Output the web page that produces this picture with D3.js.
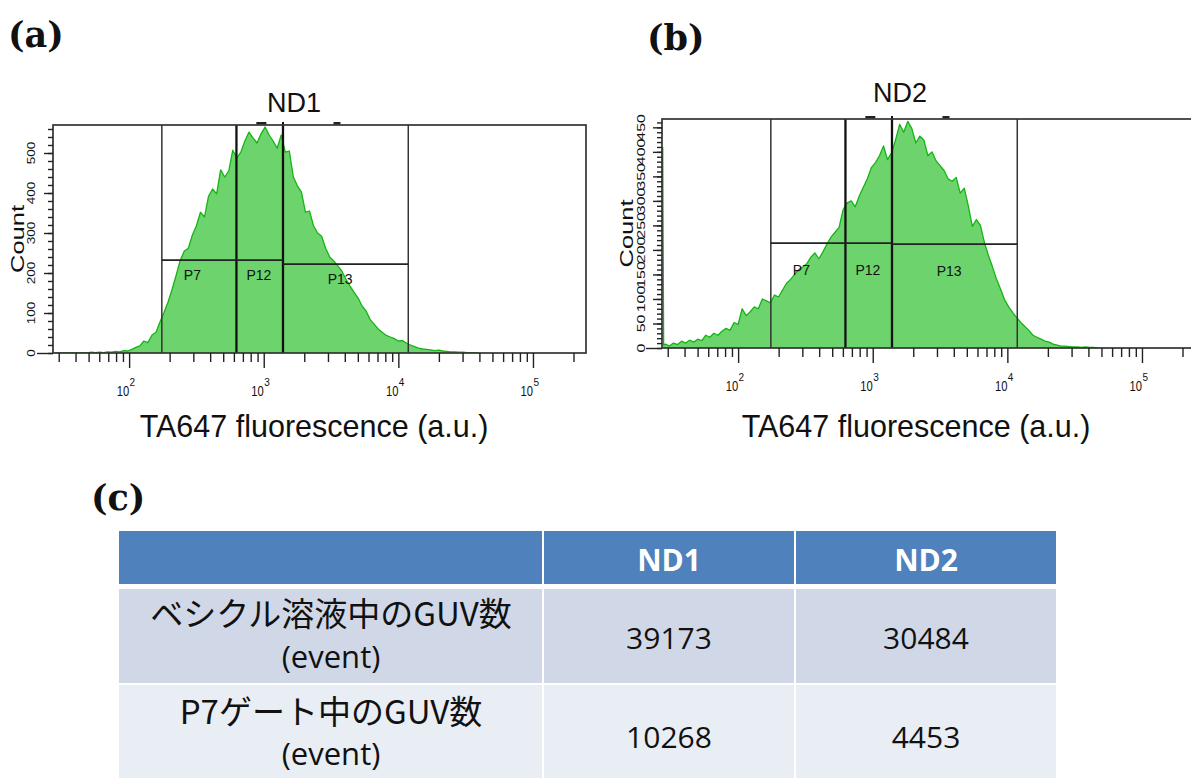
<!DOCTYPE html>
<html>
<head>
<meta charset="utf-8">
<script src="https://cdn.jsdelivr.net/npm/d3@7"></script>
<style>
  html, body { margin: 0; padding: 0; background: #fff; }
  svg { display: block; }
</style>
</head>
<body>
<svg id="fig" width="1191" height="778"></svg>
<script>
// ---- Histogram ND1: bin centres (log10 of TA647 fluorescence) and event counts ----
const nd1BinLog = [1.45,1.48,1.51,1.54,1.57,1.60,1.63,1.66,1.69,1.72,1.75,1.78,1.81,1.84,1.87,1.90,1.93,1.96,1.99,
  2.02,2.05,2.08,2.11,2.14,2.17,2.20,2.23,2.26,2.29,2.32,2.35,2.38,2.41,2.44,2.47,2.50,2.53,2.56,2.59,2.62,2.65,2.68,
  2.71,2.74,2.77,2.80,2.83,2.86,2.89,2.92,2.95,2.98,3.01,3.04,3.07,3.10,3.13,3.16,3.19,3.22,3.25,3.28,3.31,3.34,3.37,
  3.40,3.43,3.46,3.49,3.52,3.55,3.58,3.61,3.64,3.67,3.70,3.73,3.76,3.79,3.82,3.85,3.88,3.91,3.94,3.97,4.00,4.03,4.06,
  4.09,4.12,4.15,4.18,4.21,4.24,4.27,4.30,4.33,4.36,4.39,4.42,4.45,4.48,4.51,4.54,4.57,4.60];
const nd1Counts = [0,0,0,0,1,0,0,1,0,2,1,2,1,3,2,4,3,6,5,
  9,14,18,30,26,45,52,78,102,128,160,195,232,255,262,295,318,352,340,392,410,398,458,
  440,455,507,488,502,530,552,538,525,548,565,545,530,512,545,502,505,440,418,402,352,355,318,
  300,292,262,240,230,218,205,185,168,152,138,118,105,84,72,60,52,44,40,36,30,31,25,
  20,16,12,10,9,8,6,7,5,4,3,3,2,2,1,1,0,0];

// ---- Histogram ND2 ----
const nd2BinLog = [1.440,1.443,1.447,1.46,1.49,1.52,1.55,1.58,1.61,1.64,1.67,1.70,1.73,1.76,1.79,1.82,1.85,1.88,1.91,1.94,1.97,
  2.00,2.03,2.06,2.09,2.12,2.15,2.18,2.21,2.24,2.27,2.30,2.33,2.36,2.39,2.42,2.45,2.48,2.51,2.54,2.57,2.60,2.63,2.66,
  2.69,2.72,2.75,2.78,2.81,2.84,2.87,2.90,2.93,2.96,2.99,3.02,3.05,3.08,3.11,3.14,3.17,3.20,3.23,3.26,3.29,3.32,3.35,
  3.38,3.41,3.44,3.47,3.50,3.53,3.56,3.59,3.62,3.65,3.68,3.71,3.74,3.77,3.80,3.83,3.86,3.89,3.92,3.95,3.98,4.01,4.04,
  4.07,4.10,4.13,4.16,4.19,4.22,4.25,4.28,4.31,4.34,4.37,4.40,4.43,4.46,4.49,4.52,4.55,4.58,4.61,4.64,4.67];
const nd2Counts = [410,214,6,8,4,10,7,14,10,16,12,18,15,26,22,30,26,34,40,36,52,
  48,80,66,74,84,80,100,96,92,108,104,118,132,140,150,160,165,172,185,194,182,196,212,
  226,236,246,282,296,300,288,310,328,345,368,378,392,412,384,398,425,456,440,462,448,418,432,
  424,392,400,382,372,362,345,340,348,316,326,290,248,262,250,215,188,165,140,120,98,84,72,
  62,52,44,36,26,22,18,14,12,8,6,4,4,3,2,2,1,2,1,1,0];

// ---- Gates (shared by both samples) ----
const gateNames   = ["P7", "P12", "P13"];
const gateEdges   = [175, 627, 1390, 11850];   // fluorescence boundaries
const gateLabelAt = [295, 920, 3700];          // fluorescence where each gate name sits
const nd1GateLevels = [232, 232, 222];         // count level of each gate bar
const nd2GateLevels = [214, 214, 212];
const gateMarks = [960, 3500];                 // small handles above the plot frame

// ---- Axis ticks ----
const decadeExps     = [2, 3, 4, 5];
const nd1CountTicks  = [0, 100, 200, 300, 400, 500];
const nd2CountTicks  = [0, 50, 100, 150, 200, 250, 300, 350, 400, 450];

// ---- Table ----
const tableHeader = ["", "ND1", "ND2"];
const rowLabels = [["ベシクル溶液中のGUV数", "(event)"], ["P7ゲート中のGUV数", "(event)"]];
const nd1Events = [39173, 10268];
const nd2Events = [30484, 4453];

const svg = d3.select("#fig");
const sans = "Arial, 'Liberation Sans', sans-serif";
const serif = "'DejaVu Serif', 'Liberation Serif', serif";
const FILL = "#6dd46d", EDGE = "#15b415", INK = "#222";

function drawPanel(cfg, binLog, counts, countTicks, gateLevels) {
  const g = svg.append("g");
  const x = d3.scaleLog().domain([27.2, 247700]).range([cfg.left, cfg.left + 533]);
  const y = d3.scaleLinear().domain([0, cfg.yMax]).range([cfg.bottom, cfg.top]);
  const plotRight = cfg.left + 533;

  const clipId = "clip-" + cfg.title;
  svg.append("clipPath").attr("id", clipId).append("rect")
    .attr("x", cfg.left).attr("y", cfg.top)
    .attr("width", plotRight - cfg.left).attr("height", cfg.bottom - cfg.top);

  // histogram
  const pts = binLog.map((l, i) => [Math.pow(10, l), counts[i]]);
  const area = d3.area().x(d => x(d[0])).y0(y(0)).y1(d => y(d[1]));
  const line = d3.line().x(d => x(d[0])).y(d => y(d[1]));
  const hg = g.append("g").attr("clip-path", `url(#${clipId})`);
  hg.append("path").datum(pts).attr("d", area).attr("fill", FILL);
  hg.append("path").datum(pts).attr("d", line).attr("fill", "none")
    .attr("stroke", EDGE).attr("stroke-width", 1.3).attr("stroke-linejoin", "round");

  // gates
  const gg = g.append("g").attr("clip-path", `url(#${clipId})`);
  gateEdges.forEach((v, i) => {
    const inner = i === 1 || i === 2;
    gg.append("line").attr("x1", x(v)).attr("x2", x(v))
      .attr("y1", cfg.top).attr("y2", cfg.bottom)
      .attr("stroke", inner ? "#111" : "#333").attr("stroke-width", inner ? 2.3 : 1.5);
  });
  gateNames.forEach((name, i) => {
    gg.append("line").attr("x1", x(gateEdges[i])).attr("x2", x(gateEdges[i + 1]))
      .attr("y1", y(gateLevels[i])).attr("y2", y(gateLevels[i]))
      .attr("stroke", "#222").attr("stroke-width", 1.8);
    g.append("text").attr("x", x(gateLabelAt[i])).attr("y", y(gateLevels[i]) + cfg.labelDy)
      .attr("text-anchor", "middle").attr("font-family", sans).attr("font-size", 14)
      .attr("fill", "#111").text(name);
  });

  // handles above the frame
  gateMarks.forEach((v, i) => {
    const w = i === 0 ? 10 : 7;
    g.append("rect").attr("x", x(v) - w / 2).attr("y", cfg.top - 3).attr("width", w).attr("height", 2.5)
      .attr("fill", "#222");
  });
  g.append("line").attr("x1", x(gateEdges[2])).attr("x2", x(gateEdges[2]))
    .attr("y1", cfg.top - 3).attr("y2", cfg.top).attr("stroke", "#111").attr("stroke-width", 2);

  // frame
  g.append("rect").attr("x", cfg.left).attr("y", cfg.top)
    .attr("width", plotRight - cfg.left).attr("height", cfg.bottom - cfg.top)
    .attr("fill", "none").attr("stroke", "#333").attr("stroke-width", 1.7);

  // x axis: minor ticks at 2..9 of each decade, longer ticks on the decades
  const minor = [], major = [];
  for (let e = 1; e <= 5; e++) {
    for (let m = 1; m <= 9; m++) {
      const v = m * Math.pow(10, e);
      if (v < 28 || v > 240000) continue;
      (m === 1 ? major : minor).push(v);
    }
  }
  const styleAxis = sel => {
    sel.select(".domain").remove();
    sel.selectAll("line").attr("stroke", INK).attr("stroke-width", 1.4);
  };
  g.append("g").attr("transform", `translate(0,${cfg.bottom})`)
    .call(d3.axisBottom(x).tickValues(minor).tickSize(9).tickFormat("")).call(styleAxis);
  g.append("g").attr("transform", `translate(0,${cfg.bottom})`)
    .call(d3.axisBottom(x).tickValues(major).tickSize(15).tickFormat("")).call(styleAxis);
  decadeExps.forEach(e => {
    const xx = x(Math.pow(10, e));
    g.append("text").attr("transform", `translate(${xx},${cfg.bottom + 43}) scale(0.8,1)`)
      .attr("text-anchor", "end").attr("font-family", sans).attr("font-size", 14)
      .attr("fill", "#111").text("10");
    g.append("text").attr("x", xx + 0.5).attr("y", cfg.bottom + 33).attr("font-family", sans)
      .attr("font-size", 10).attr("fill", "#111").text(String(e));
  });

  // y axis
  const yMinor = d3.range(0, cfg.yMax, cfg.minorStep);
  g.append("g").attr("transform", `translate(${cfg.left},0)`)
    .call(d3.axisLeft(y).tickValues(yMinor).tickSize(5).tickFormat("")).call(styleAxis);
  g.append("g").attr("transform", `translate(${cfg.left},0)`)
    .call(d3.axisLeft(y).tickValues(countTicks.slice(1)).tickSize(9).tickFormat("")).call(styleAxis);
  g.append("g").attr("transform", `translate(${cfg.left},0)`)
    .call(d3.axisLeft(y).tickValues([0]).tickSize(16).tickFormat("")).call(styleAxis);
  countTicks.forEach(v => {
    g.append("text")
      .attr("transform", `translate(${cfg.left - 21},${y(v)}) rotate(-90) scale(${cfg.tickStretch},1)`)
      .attr("text-anchor", "middle").attr("dominant-baseline", "central")
      .attr("font-family", sans).attr("font-size", cfg.tickFont).attr("fill", "#111").text(v);
  });
  g.append("text")
    .attr("transform", `translate(${cfg.left - 36},${(cfg.top + cfg.bottom) / 2}) rotate(-90)`)
    .attr("text-anchor", "middle").attr("dominant-baseline", "central")
    .attr("font-family", sans).attr("font-size", 19).attr("fill", "#111")
    .attr("textLength", 68).attr("lengthAdjust", "spacingAndGlyphs").text("Count");

  // titles
  g.append("text").attr("x", cfg.titleX).attr("y", cfg.titleY).attr("text-anchor", "middle")
    .attr("font-family", sans).attr("font-size", 27).attr("fill", "#111").text(cfg.title);
  g.append("text").attr("x", cfg.xTitleX).attr("y", cfg.xTitleY).attr("text-anchor", "middle")
    .attr("font-family", sans).attr("font-size", 30.5).attr("fill", "#111")
    .text("TA647 fluorescence (a.u.)");
  g.append("text").attr("x", cfg.letterX).attr("y", cfg.letterY)
    .attr("font-family", serif).attr("font-weight", "bold").attr("font-size", 35)
    .attr("fill", "#111").text(cfg.letter);
}

drawPanel({ left: 53, top: 125, bottom: 353, yMax: 570, minorStep: 20, tickFont: 10, tickStretch: 1.35,
            title: "ND1", titleX: 294, titleY: 112, xTitleX: 314, xTitleY: 437,
            letter: "(a)", letterX: 8, letterY: 47, labelDy: 20 },
          nd1BinLog, nd1Counts, nd1CountTicks, nd1GateLevels);

drawPanel({ left: 662, top: 119, bottom: 348, yMax: 467, minorStep: 10, tickFont: 11, tickStretch: 1.45,
            title: "ND2", titleX: 900, titleY: 102, xTitleX: 916, xTitleY: 437,
            letter: "(b)", letterX: 647, letterY: 50, labelDy: 32 },
          nd2BinLog, nd2Counts, nd2CountTicks, nd2GateLevels);

// ---- (c) event table ----
svg.append("text").attr("x", 91).attr("y", 510).attr("font-family", serif).attr("font-weight", "bold")
  .attr("font-size", 35).attr("fill", "#111").text("(c)");

const colEdges = [119, 543, 795, 1057];
const headerBand = [531, 584];
const rowBands = [[589, 683], [685, 800]];
const rowFills = ["#d0d8e8", "#e9edf4"];
const tableFont = "'Open Sans', 'Noto Sans CJK JP', sans-serif";
const tg = svg.append("g");

tableHeader.forEach((h, c) => {
  tg.append("rect").attr("x", colEdges[c] + (c ? 1 : 0)).attr("y", headerBand[0])
    .attr("width", colEdges[c + 1] - colEdges[c] - (c ? 1 : 0) - 1)
    .attr("height", headerBand[1] - headerBand[0]).attr("fill", "#4f81bd");
  if (h) tg.append("text").attr("x", (colEdges[c] + colEdges[c + 1]) / 2).attr("y", 571)
    .attr("text-anchor", "middle").attr("font-family", tableFont).attr("font-weight", "bold")
    .attr("font-size", 30).attr("fill", "#fff").text(h);
});

const rowValues = rowLabels.map((lab, r) => [lab, nd1Events[r], nd2Events[r]]);
const labelBase = [[626, 668], [724, 765]];
const numBase = [649, 748];
rowValues.forEach((row, r) => {
  row.forEach((cell, c) => {
    tg.append("rect").attr("x", colEdges[c] + (c ? 1 : 0)).attr("y", rowBands[r][0])
      .attr("width", colEdges[c + 1] - colEdges[c] - (c ? 1 : 0) - 1)
      .attr("height", rowBands[r][1] - rowBands[r][0]).attr("fill", rowFills[r]);
    const cx = (colEdges[c] + colEdges[c + 1]) / 2;
    if (c === 0) {
      cell.forEach((line, k) => {
        tg.append("text").attr("x", cx).attr("y", labelBase[r][k]).attr("text-anchor", "middle")
          .attr("font-family", k === 0 ? "'Noto Sans CJK JP', sans-serif" : tableFont)
          .attr("font-size", k === 0 ? 33 : 31).attr("fill", "#111").text(line);
      });
    } else {
      tg.append("text").attr("x", cx).attr("y", numBase[r]).attr("text-anchor", "middle")
        .attr("font-family", tableFont).attr("font-size", 30).attr("fill", "#111").text(cell);
    }
  });
});
</script>
</body>
</html>
